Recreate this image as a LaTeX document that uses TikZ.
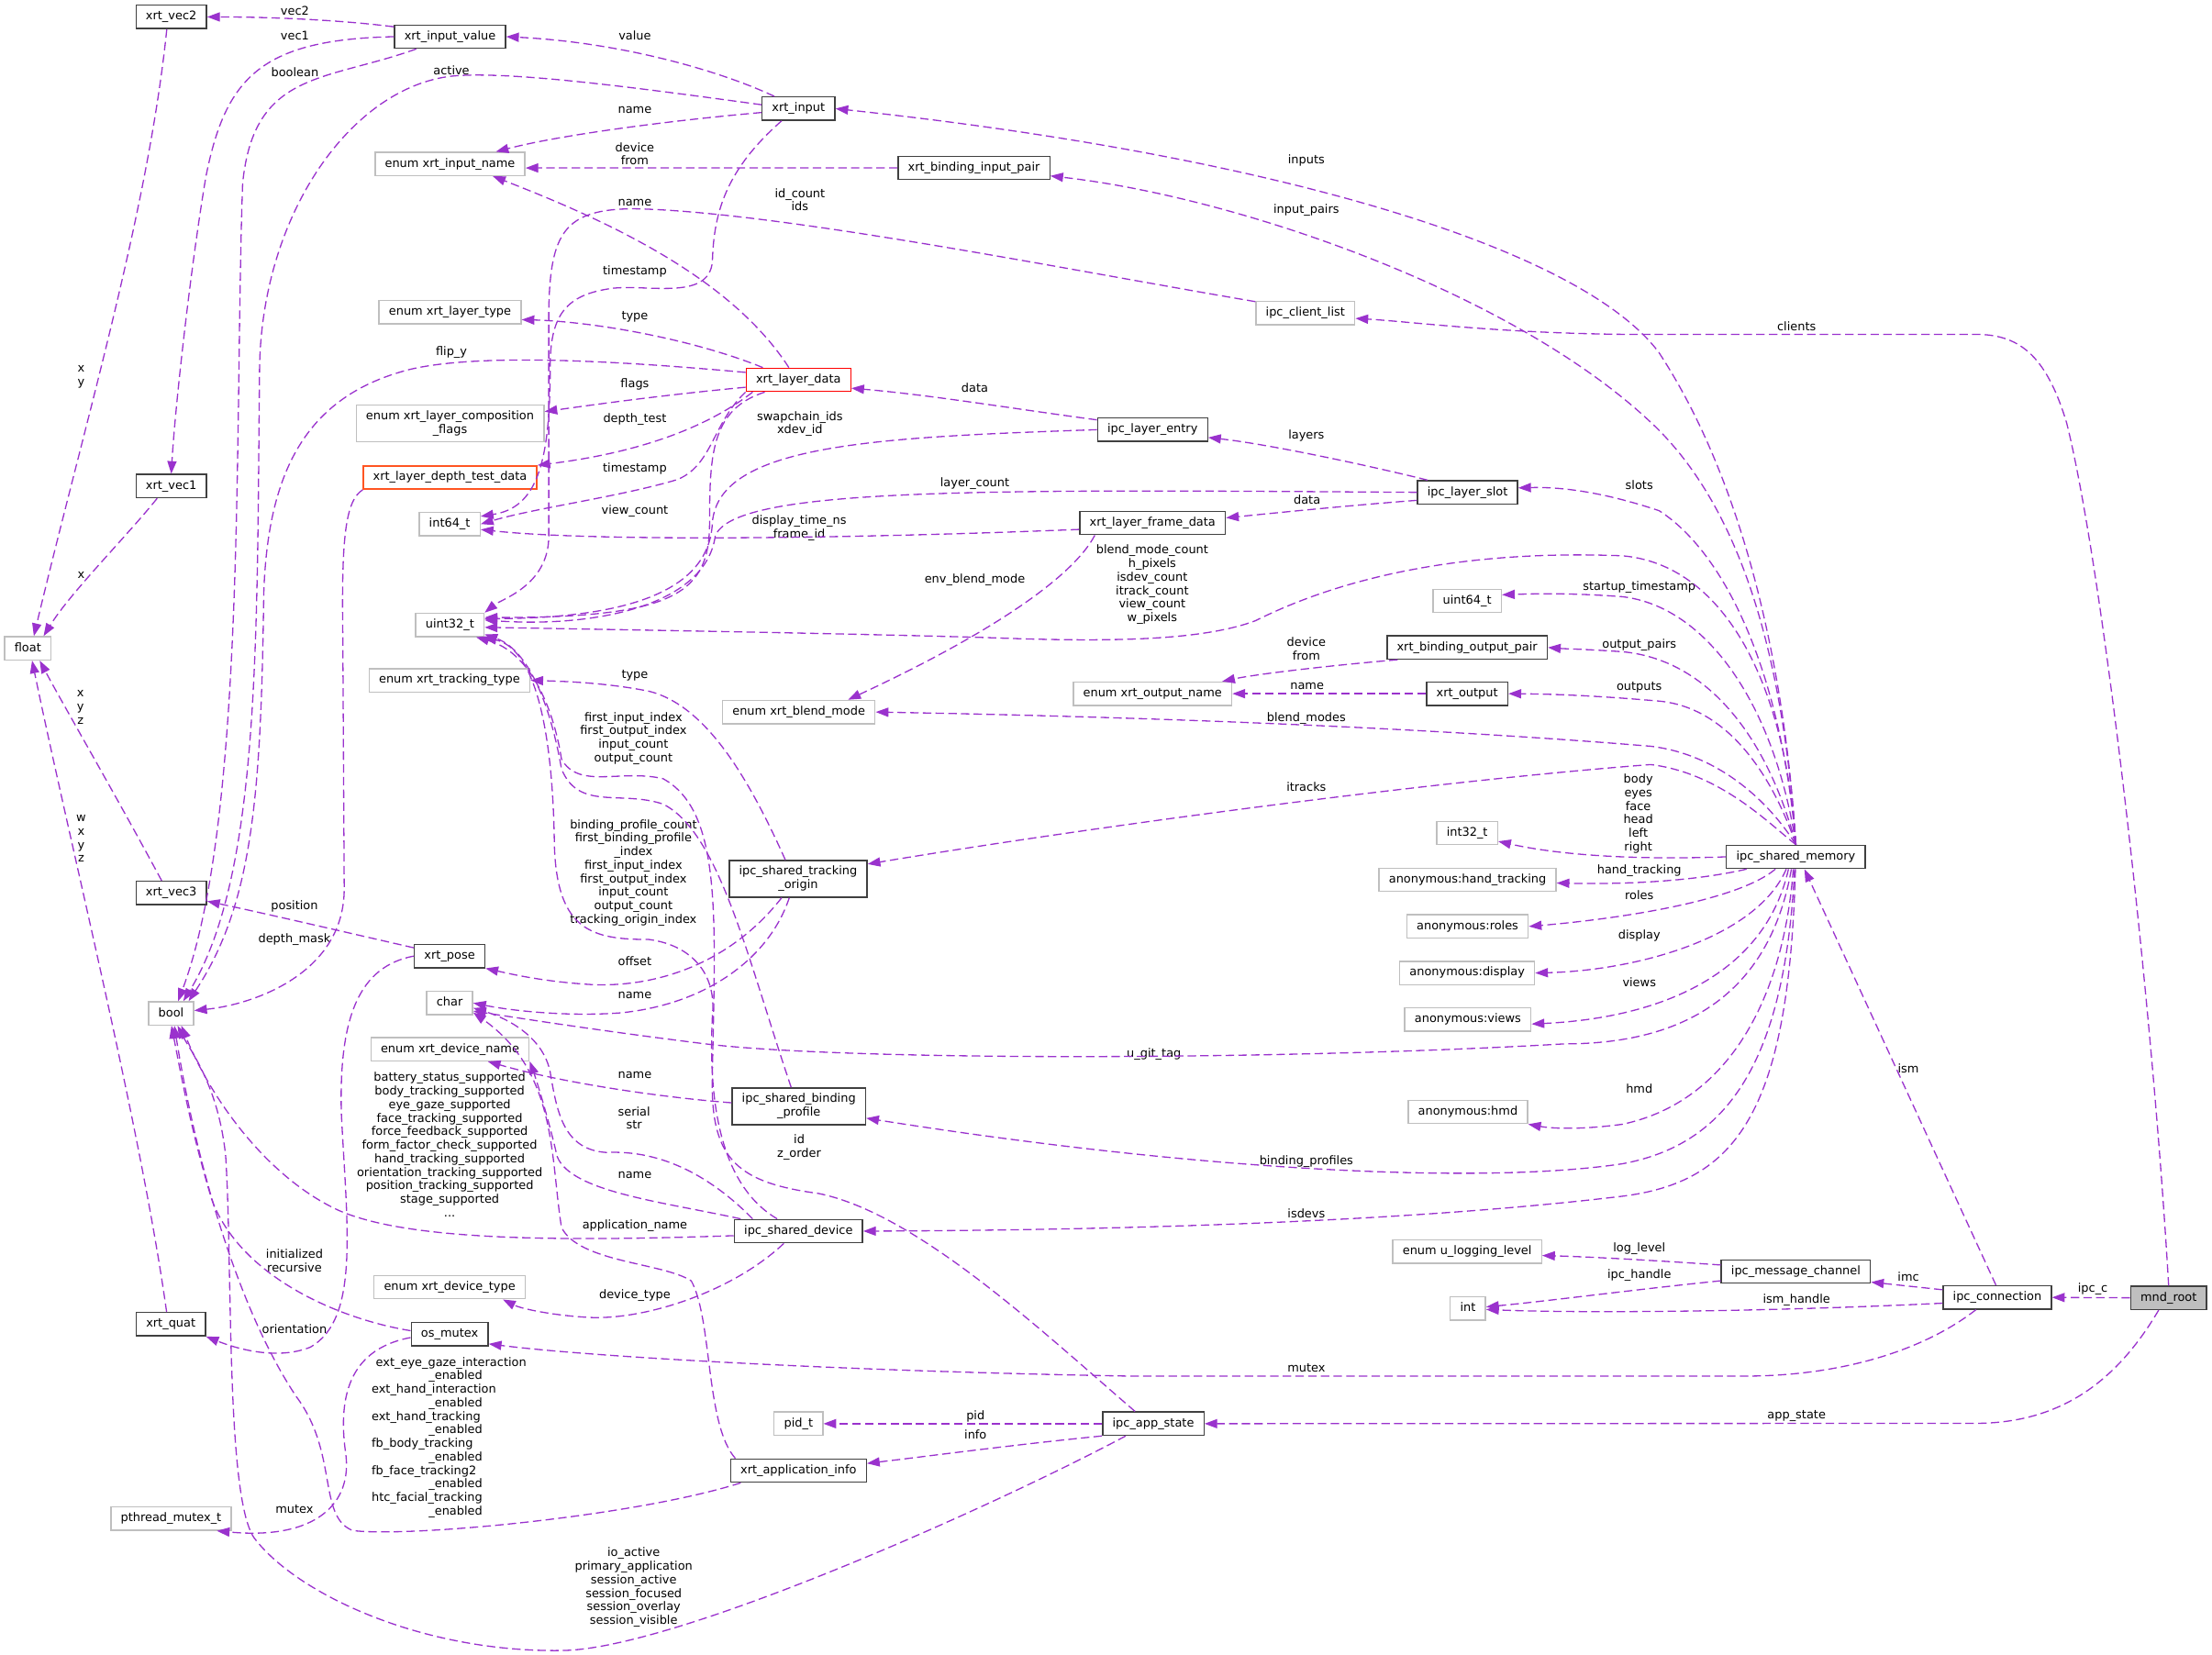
\documentclass[tikz,border=0pt]{standalone}
\usepackage{fontspec}
\setmainfont{DejaVu Sans}
\usepackage{tikz}
\usetikzlibrary{arrows.meta}

\definecolor{kante}{RGB}{154,50,205}
\definecolor{rahmen}{RGB}{64,64,64}
\definecolor{hellgrau}{RGB}{191,191,191}
\definecolor{orangerot}{RGB}{255,85,34}

\begin{document}
\begin{tikzpicture}[x=1pt, y=-1pt,
    font=\fontsize{8.4}{9.6}\selectfont,
    klasse/.style={draw=rahmen, fill=white, line width=0.9pt, minimum height=16.5pt,
      inner xsep=7pt, inner ysep=0pt, text height=6.3pt, text depth=1.9pt},
    klasse2/.style={draw=rahmen, fill=white, line width=0.9pt, minimum height=26pt,
      inner xsep=7pt, inner ysep=2pt, align=center},
    typ/.style={klasse, draw=hellgrau},
    beschr/.style={inner sep=0pt, align=center},
    feld/.style={draw=kante, line width=0.85pt, dash pattern=on 6pt off 3pt,
      -{Triangle[length=9pt, width=6.5pt]}}]
  \useasboundingbox (0,0) rectangle (1568,1173);

  % Klassen
  \foreach \nm/\px/\py/\txt in {
    vec2/121.4/12/xrt\_vec2,
    iv/319/26/xrt\_input\_value,
    inp/566/77/xrt\_input,
    bip/690.4/119/xrt\_binding\_input\_pair,
    vec1/121.4/344.6/xrt\_vec1,
    le/817/304.6/ipc\_layer\_entry,
    slot/1040.3/349/ipc\_layer\_slot,
    fd/817/370.75/xrt\_layer\_frame\_data,
    bop/1040/459/xrt\_binding\_output\_pair,
    outp/1040/491.75/xrt\_output,
    ism/1273/607.4/ipc\_shared\_memory,
    vec3/121.4/633/xrt\_vec3,
    pose/318.75/677.75/xrt\_pose,
    sdev/566/872.75/ipc\_shared\_device,
    imc/1273/901.4/ipc\_message\_channel,
    conn/1415.75/919.75/ipc\_connection,
    quat/121.1/938.75/xrt\_quat,
    osm/318.75/945.75/os\_mutex,
    app/817.5/1009.25/ipc\_app\_state,
    appinfo/566/1042.5/xrt\_application\_info}
    \node[klasse] (\nm) at (\px,\py) {\txt};
  \node[klasse2] (sto) at (565.75,623) {ipc\_shared\_tracking\\\_origin};
  \node[klasse2] (sbp) at (566.25,784.25) {ipc\_shared\_binding\\\_profile};
  \node[klasse, draw=red] (ld) at (566,269.25) {xrt\_layer\_data};
  \node[klasse, draw=orangerot] (depth) at (319,338.5) {xrt\_layer\_depth\_test\_data};
  \node[klasse, fill=hellgrau] (root) at (1537.25,920) {mnd\_root};

  % Typen
  \foreach \nm/\px/\py/\txt in {
    inname/319/116.25/enum xrt\_input\_name,
    clist/925.3/222/ipc\_client\_list,
    layertype/319/221.25/enum xrt\_layer\_type,
    i64/318.75/371.5/int64\_t,
    u32/318.9/443/uint32\_t,
    float/19.75/459.6/float,
    u64/1040/426/uint64\_t,
    outname/817/491.75/enum xrt\_output\_name,
    tracktype/318.6/482.25/enum xrt\_tracking\_type,
    blend/566.25/504.75/enum xrt\_blend\_mode,
    i32/1040/590.5/int32\_t,
    anhand/1040.25/623.75/anonymous:hand\_tracking,
    anroles/1040.25/656.75/anonymous:roles,
    andisp/1040/689.75/anonymous:display,
    char/318.75/711/char,
    bool/121.25/718.4/bool,
    anviews/1040.5/722.75/anonymous:views,
    devname/319/743.75/enum xrt\_device\_name,
    anhmd/1040.5/788.25/anonymous:hmd,
    loglvl/1040/887.25/enum u\_logging\_level,
    int/1040.5/927.6/int,
    devtype/318.75/912.5/enum xrt\_device\_type,
    pid/566/1009.25/pid\_t,
    pthread/121.25/1076.5/pthread\_mutex\_t}
    \node[typ] (\nm) at (\px,\py) {\txt};
  \node[klasse2, draw=hellgrau] (compflags) at (319,300) {enum xrt\_layer\_composition\\\_flags};

  % Beschriftungen
  \foreach \nm/\px/\py/\txt in {
    lvec2/209/7.5/vec2,
    lvec1/209/25/vec1,
    lboolean/209/51/boolean,
    lactive/320/50/active,
    lvalue/450/25/value,
    lname1/450/78/name,
    ldevfrom1/450/109/device\\from,
    lids/567/141.6/id\_count\\ids,
    lname2/450/144/name,
    linputs/926/114/inputs,
    lpairs/926/149/input\_pairs,
    lts1/450/192.5/timestamp,
    ltype1/450/224.5/type,
    lclients/1273.5/231/clients,
    lflip/320/250/flip\_y,
    lflags/450/272.5/flags,
    ldata1/691/275/data,
    ldepth/450/297/depth\_test,
    lswap/567/300.5/swapchain\_ids\\xdev\_id,
    llayers/926/309/layers,
    lts2/450/332.5/timestamp,
    llcount/691/342.5/layer\_count,
    lslots/1162/344/slots,
    ldata2/926.5/354/data,
    lvcount/450/362/view\_count,
    ldisp/566.5/374.25/display\_time\_ns\\frame\_id,
    lenv/691/411/env\_blend\_mode,
    lcounts/816.75/414.5/blend\_mode\_count\\h\_pixels\\isdev\_count\\itrack\_count\\view\_count\\w\_pixels,
    lstart/1162/416.5/startup\_timestamp,
    ldevfrom2/926/459.75/device\\from,
    loutpairs/1162/457/output\_pairs,
    lname3/926.5/486.5/name,
    loutputs/1162/487/outputs,
    ltype2/450/479/type,
    lfirst/449/523.5/first\_input\_index\\first\_output\_index\\input\_count\\output\_count,
    lbmodes/926/509.5/blend\_modes,
    litracks/926/558/itracks,
    lbody/1161.3/576.75/body\\eyes\\face\\head\\left\\right,
    lbpc/449/618.75/binding\_profile\_count\\first\_binding\_profile\\\_index\\first\_input\_index\\first\_output\_index\\input\_count\\output\_count\\tracking\_origin\_index,
    lxyz/57/501.25/x\\y\\z,
    lx/57.5/407.75/x,
    lxy/57.5/267.25/x\\y,
    lwxyz/57.5/594.5/w\\x\\y\\z,
    lpos/208.75/642.25/position,
    ldmask/208.75/666/depth\_mask,
    lhand/1162/617/hand\_tracking,
    lroles/1162/634.5/roles,
    ldisplay/1162/663/display,
    loffset/450/681.5/offset,
    lname4/450/705.5/name,
    lviews/1162/696.5/views,
    lgit/818/747/u\_git\_tag,
    lname5/450/762/name,
    lserial/449.5/792.5/serial\\str,
    lidz/566.5/813.5/id\\z\_order,
    lhmd/1162/772/hmd,
    lbprof/926/823.5/binding\_profiles,
    lname6/450/833/name,
    lisdevs/926/860/isdevs,
    lappname/450/869/application\_name,
    linit/208.75/893.75/initialized\\recursive,
    ldevtype/450/918.5/device\_type,
    llog/1162/885/log\_level,
    lipch/1162/903.75/ipc\_handle,
    limc/1352.75/904.75/imc,
    lipcc/1483.5/913.75/ipc\_c,
    lismh/1273.5/921.75/ism\_handle,
    lorient/208.75/942/orientation,
    lmutex1/926/970/mutex,
    lappst/1273.5/1004/app\_state,
    lpid/691.5/1004/pid,
    linfo/691.5/1017/info,
    lmutex2/208.75/1070/mutex,
    lio/449.2/1125.4/io\_active\\primary\_application\\session\_active\\session\_focused\\session\_overlay\\session\_visible,
    lism/1352.75/757.75/ism}
    \node[beschr] (\nm) at (\px,\py) {\txt};
  \node[beschr] (lbattery) at (318.75,811.5)
    {battery\_status\_supported\\body\_tracking\_supported\\eye\_gaze\_supported\\
     face\_tracking\_supported\\force\_feedback\_supported\\form\_factor\_check\_supported\\
     hand\_tracking\_supported\\orientation\_tracking\_supported\\position\_tracking\_supported\\
     stage\_supported\\...};
  \node[beschr, anchor=west, align=left] (lenab) at (263.25,1019)
    {\hspace*{3pt}ext\_eye\_gaze\_interaction\\\hspace*{40.5pt}\_enabled\\
     ext\_hand\_interaction\\\hspace*{40.5pt}\_enabled\\
     ext\_hand\_tracking\\\hspace*{40.5pt}\_enabled\\
     fb\_body\_tracking\\\hspace*{40.5pt}\_enabled\\
     fb\_face\_tracking2\\\hspace*{40.5pt}\_enabled\\
     htc\_facial\_tracking\\\hspace*{40.5pt}\_enabled};

  % Kanten links oben
  \draw[feld] (iv.170) .. controls (240,14) and (190,12) .. (vec2.east);
  \draw[feld] (iv.west) .. controls (185,28) and (160,55) .. (146,125) .. controls (135,190) and (124,290) .. (vec1.north);
  \draw[feld] (iv.200) .. controls (230,58) and (180,50) .. (172,130) .. controls (166,300) and (175,580) .. (bool.60);
  \draw[feld] (inp.174) .. controls (450,62) and (360,50) .. (320,54) .. controls (250,62) and (186,150) .. (184,260) .. controls (182,450) and (185,620) .. (bool.45);
  \draw[feld] (inp.153) .. controls (510,50) and (440,30) .. (iv.east);
  \draw[feld] (inp.186) .. controls (480,85) and (400,95) .. (inname.15);
  \draw[feld] (inp.216) .. controls (515,120) and (506,150) .. (505,185) .. controls (503,215) and (455,200) .. (430,205) .. controls (400,210) and (390,225) .. (390,260) .. controls (390,330) and (380,360) .. (i64.14);
  \draw[feld] (bip.west) .. controls (500,119) and (420,119) .. (inname.-3);
  \draw[feld] (ld.128) .. controls (520,200) and (440,160) .. (inname.-16);
  \draw[feld] (ld.161) .. controls (490,240) and (420,228) .. (layertype.-6);
  \draw[feld] (ld.172) .. controls (440,256) and (340,250) .. (290,262) .. controls (220,280) and (190,330) .. (187,420) .. controls (185,560) and (180,640) .. (bool.35);
  \draw[feld] (ld.188) .. controls (470,280) and (420,287) .. (compflags.7);
  \draw[feld] (ld.195) .. controls (505,300) and (460,320) .. (depth.north east);
  \draw[feld] (ld.south west) .. controls (505,300) and (505,330) .. (480,340) .. controls (440,352) and (380,360) .. (i64.east);
  \draw[feld] (ld.200) .. controls (505,290) and (503,320) .. (503,370) .. controls (503,420) and (480,438) .. (u32.12);
  \draw[feld] (le.170) .. controls (720,290) and (660,280) .. (ld.-9);
  \draw[feld] (le.west) .. controls (620,310) and (510,315) .. (505,370) .. controls (503,425) and (430,438) .. (u32.10);
  \draw[feld] (slot.163) .. controls (970,330) and (900,315) .. (le.-8);
  \draw[feld] (slot.189) .. controls (960,358) and (910,363) .. (fd.4);
  \draw[feld] (slot.west) .. controls (700,347) and (520,345) .. (507,380) .. controls (500,430) and (420,445) .. (u32.8);
  \draw[feld] (fd.185) .. controls (600,382) and (420,384) .. (i64.-10);
  \draw[feld] (fd.192) .. controls (760,410) and (700,450) .. (blend.14);
  \draw[feld] (clist.167) .. controls (750,190) and (550,150) .. (450,148) .. controls (400,148) and (390,165) .. (389,220) -- (389,380) .. controls (389,415) and (355,425) .. (u32.north east);

  % Kanten von ipc_shared_memory
  \draw[feld] (ism.north) .. controls (1265,470) and (1235,340) .. (1176,250) .. controls (1120,175) and (900,110) .. (inp.east);
  \draw[feld] (ism.north) .. controls (1265,480) and (1240,370) .. (1176,305) .. controls (1080,210) and (880,140) .. (bip.-6);
  \draw[feld] (ism.north) .. controls (1262,470) and (1220,390) .. (1176,362) .. controls (1140,350) and (1110,345) .. (slot.5);
  \draw[feld] (ism.north) .. controls (1265,480) and (1220,400) .. (1150,394) .. controls (1050,390) and (960,405) .. (890,440) .. controls (850,455) and (780,455) .. (700,452) .. controls (600,449) and (420,446) .. (u32.-4);
  \draw[feld] (ism.north) .. controls (1258,500) and (1210,430) .. (1150,423) .. controls (1110,420) and (1085,421) .. (u64.10);
  \draw[feld] (ism.north) .. controls (1255,530) and (1215,468) .. (1150,462) .. controls (1120,460) and (1110,460) .. (bop.east);
  \draw[feld] (ism.north) .. controls (1260,560) and (1230,502) .. (1176,497) .. controls (1130,493) and (1100,492) .. (outp.east);
  \draw[feld] (ism.north) .. controls (1255,570) and (1220,535) .. (1170,529) .. controls (1000,515) and (800,508) .. (blend.east);
  \draw[feld] (ism.north) .. controls (1255,585) and (1220,548) .. (1170,542) .. controls (1000,555) and (750,590) .. (sto.12);
  \draw[feld] (ism.west) .. controls (1150,610) and (1100,605) .. (i32.-15);
  \draw[feld] (ism.194) .. controls (1200,625) and (1150,627) .. (anhand.-2);
  \draw[feld] (ism.211) .. controls (1230,640) and (1140,652) .. (anroles.east);
  \draw[feld] (ism.232) .. controls (1245,665) and (1160,688) .. (andisp.east);
  \draw[feld] (ism.239) .. controls (1250,695) and (1170,722) .. (anviews.-4);
  \draw[feld] (ism.250) .. controls (1255,700) and (1200,740) .. (1109,740) .. controls (900,752) and (600,752) .. (500,740) .. controls (420,730) and (370,722) .. (char.-19);
  \draw[feld] (ism.258) .. controls (1265,700) and (1230,780) .. (1150,797) .. controls (1120,801) and (1100,800) .. (anhmd.south east);
  \draw[feld] (ism.264) .. controls (1265,760) and (1220,812) .. (1150,825) .. controls (1050,840) and (850,830) .. (sbp.-10);
  \draw[feld] (ism.268) .. controls (1268,790) and (1230,838) .. (1150,848) .. controls (1000,866) and (800,872) .. (sdev.east);
  \draw[feld] (bop.190) .. controls (940,472) and (890,478) .. (outname.10);
  \draw[feld] (outp.west) -- (outname.east);

  % Kanten rechts unten
  \draw[feld] (root.north) .. controls (1525,700) and (1490,400) .. (1465,300) .. controls (1450,250) and (1430,237) .. (1400,237) -- (1150,237) .. controls (1060,236) and (1000,228) .. (clist.-6);
  \draw[feld] (imc.175) .. controls (1180,894) and (1130,891) .. (loglvl.-3);
  \draw[feld] (imc.187) .. controls (1160,914) and (1100,922) .. (int.5);
  \draw[feld] (conn.186) .. controls (1250,930) and (1120,931) .. (int.-3);
  \draw[feld] (conn.172) -- (imc.-8);
  \draw[feld] (conn.96) -- (ism.-55);
  \draw[feld] (root.west) -- (conn.east);
  \draw[feld] (conn.210) .. controls (1360,960) and (1300,975) .. (1240,975.5) -- (800,975.5) .. controls (600,972) and (420,962) .. (osm.-14);
  \draw[feld] (root.231) .. controls (1500,980) and (1460,1009) .. (1400,1009) -- (app.east);
  \draw[feld] (app.west) -- (pid.east);
  \draw[feld] (app.south west) .. controls (720,1024) and (660,1032) .. (appinfo.6);
  \draw[feld] (app.204) .. controls (700,1070) and (480,1168) .. (400,1170) .. controls (300,1172) and (210,1130) .. (180,1090) .. controls (160,1060) and (165,900) .. (160,820) .. controls (155,770) and (135,745) .. (bool.-62);
  \draw[feld] (app.146) .. controls (740,945) and (650,860) .. (580,846) .. controls (520,838) and (503,820) .. (505,760) .. controls (507,650) and (512,575) .. (470,552) .. controls (440,545) and (410,560) .. (398,538) .. controls (392,500) and (375,462) .. (u32.-25);

  % Kanten Mitte
  \draw[feld] (sto.124) .. controls (530,550) and (500,500) .. (460,490) .. controls (430,484) and (400,483) .. (tracktype.east);
  \draw[feld] (sto.229) .. controls (520,680) and (470,700) .. (420,698) .. controls (385,696) and (360,690) .. (pose.south east);
  \draw[feld] (sto.245) .. controls (545,680) and (500,712) .. (440,718) .. controls (400,721) and (360,716) .. (char.east);
  \draw[feld] (sbp.177) .. controls (470,778) and (400,768) .. (devname.-18);
  \draw[feld] (sbp.112) .. controls (530,680) and (510,590) .. (470,570) .. controls (440,560) and (410,575) .. (398,545) .. controls (392,510) and (378,462) .. (u32.-15);
  \draw[feld] (sdev.168) .. controls (470,852) and (405,845) .. (395,820) .. controls (388,790) and (380,765) .. (devname.south east);
  \draw[feld] (sdev.165) .. controls (505,835) and (470,815) .. (430,817) .. controls (400,815) and (395,790) .. (390,760) .. controls (385,735) and (360,722) .. (char.-12);
  \draw[feld] (sdev.184) .. controls (400,880) and (290,880) .. (240,858) .. controls (190,835) and (150,780) .. (bool.-50);
  \draw[feld] (sdev.150) .. controls (510,840) and (502,780) .. (505,720) .. controls (508,690) and (490,670) .. (460,666) .. controls (420,666) and (395,660) .. (393,600) .. controls (392,520) and (380,460) .. (u32.-20);
  \draw[feld] (sdev.220) .. controls (520,915) and (460,935) .. (420,934) .. controls (395,933) and (370,928) .. (devtype.-13);
  \draw[feld] (appinfo.192) .. controls (450,1075) and (290,1090) .. (250,1085) .. controls (225,1075) and (240,1030) .. (210,990) .. controls (170,930) and (140,830) .. (bool.-75);
  \draw[feld] (appinfo.169) .. controls (500,1010) and (505,935) .. (490,908) .. controls (470,895) and (410,895) .. (398,870) .. controls (390,820) and (395,760) .. (char.-22);

  % Kanten links
  \draw[feld] (pose.167) .. controls (250,662) and (190,648) .. (vec3.-13);
  \draw[feld] (pose.west) .. controls (255,685) and (240,720) .. (242,790) .. controls (246,870) and (255,935) .. (220,955) .. controls (195,965) and (165,955) .. (quat.south east);
  \draw[feld] (vec3.128) .. controls (80,560) and (45,500) .. (float.-46);
  \draw[feld] (quat.109) .. controls (100,800) and (50,600) .. (float.-71);
  \draw[feld] (vec2.250) .. controls (105,150) and (60,300) .. (float.64);
  \draw[feld] (vec1.221) .. controls (90,380) and (50,420) .. (float.38);
  \draw[feld] (osm.175) .. controls (240,935) and (170,905) .. (150,850) .. controls (135,800) and (128,760) .. (bool.-88);
  \draw[feld] (osm.185) .. controls (255,955) and (238,980) .. (245,1030) .. controls (250,1065) and (225,1092) .. (pthread.-15);
  \draw[feld] (depth.188) .. controls (245,355) and (242,380) .. (243,450) -- (244,630) .. controls (244,690) and (180,712) .. (bool.7);
\end{tikzpicture}
\end{document}
